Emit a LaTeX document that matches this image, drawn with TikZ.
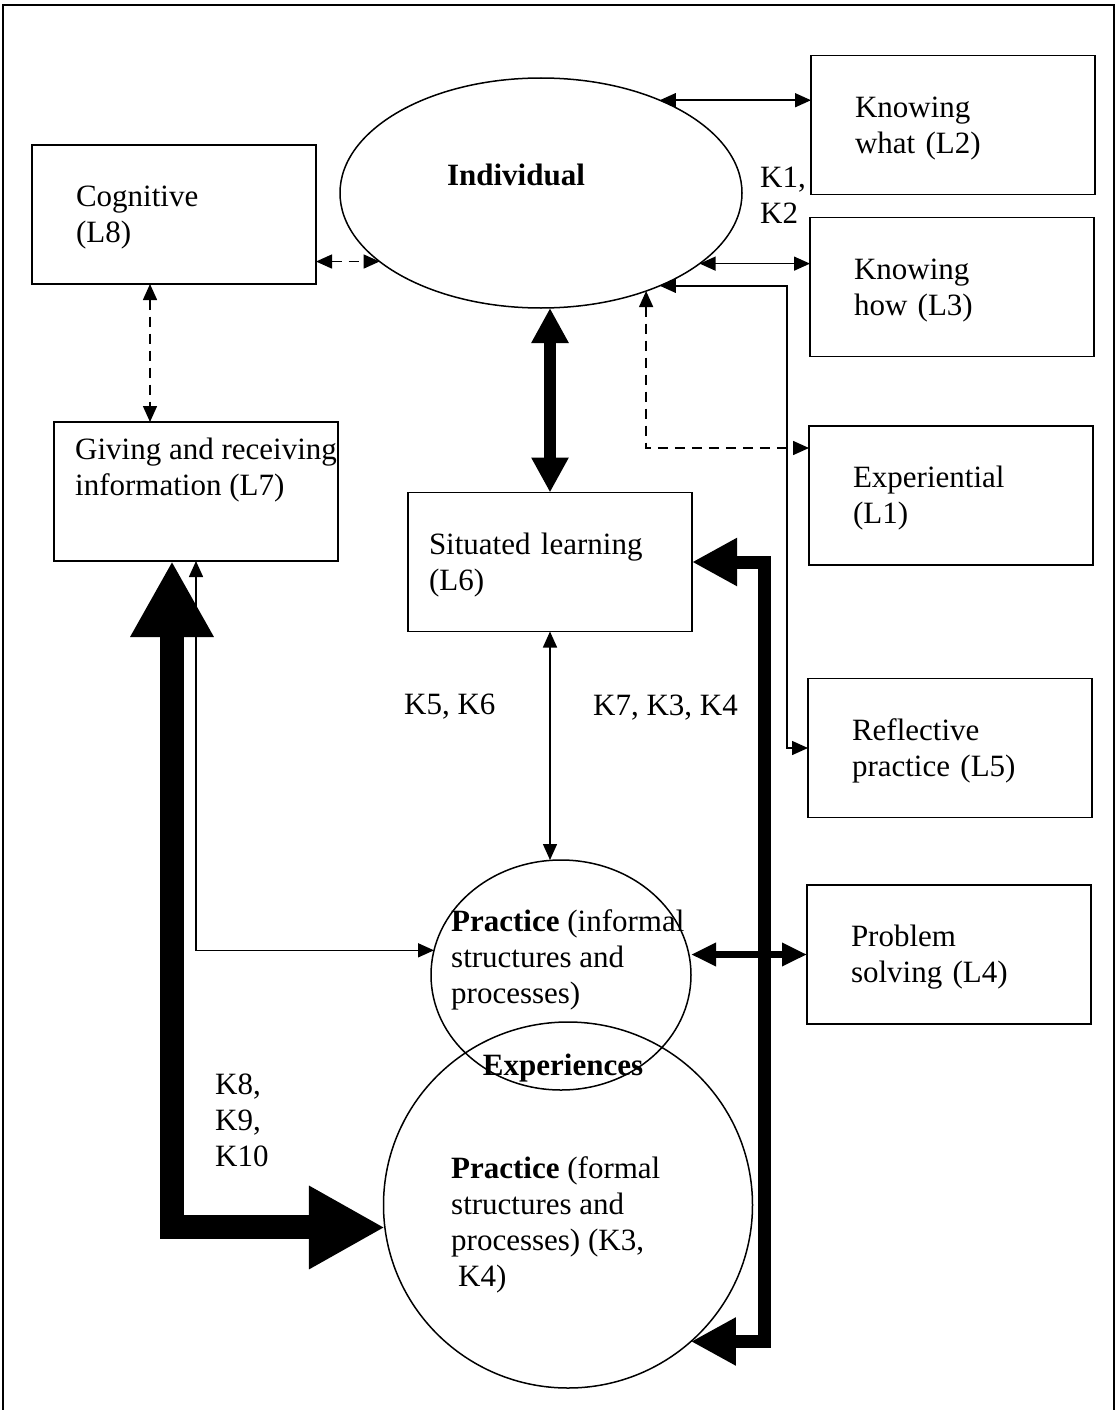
\documentclass[tikz,border=0pt]{standalone}
\usepackage{fontspec}
\setmainfont{Liberation Serif}
\usetikzlibrary{arrows.meta,shapes.geometric}
\newcommand\diagfont{\fontsize{31}{36}\selectfont}
\begin{document}
\begin{tikzpicture}[x=1pt,y=-1pt,
  boxnode/.style={draw, line width=1.5pt, minimum width=284pt, minimum height=139pt,
    inner xsep=44pt, inner ysep=0pt, outer sep=0pt, text width=196pt, align=left, font=\diagfont,
    execute at begin node={\rule{0pt}{27.5pt}}},
  narrowpad/.style={inner xsep=21pt, text width=242pt},
  oval/.style={draw, ellipse, line width=1.5pt, inner sep=0pt, outer sep=0pt},
  txt/.style={inner sep=0pt, align=left, font=\diagfont},
  thin/.style={line width=1.5pt, arrows={Triangle[length=16pt,width=14pt]-Triangle[length=16pt,width=14pt]}},
  dashline/.style={thin, dash pattern=on 10pt off 7pt},
  boldmid/.style={line width=7pt, arrows={Triangle[length=25pt,width=22pt]-Triangle[length=25pt,width=22pt]}},
  boldup/.style={line width=12pt, arrows={Triangle[length=35pt,width=35pt]-Triangle[length=35pt,width=35pt]}},
  boldright/.style={line width=13pt, line join=miter, arrows={Triangle[length=45pt,width=45pt]-Triangle[length=45pt,width=45pt]}},
  boldleft/.style={line width=24pt, line join=miter, arrows={Triangle[length=76pt,width=78pt]-Triangle[length=76pt,width=78pt]}}
]
\useasboundingbox (0,0) rectangle (1118,1410);
\draw[line width=1.5pt] (3,1410) -- (3,5) -- (1114,5) -- (1114,1410);

% central ellipse and the two practice circles
\node[oval, minimum width=402pt, minimum height=230pt] (ind) at (541,193) {};
\node[txt, font=\diagfont\bfseries] (indt) at (516,175) {Individual};
\node[oval, minimum width=260pt, minimum height=230pt] (pin) at (561,975) {};
\node[oval, minimum width=369pt, minimum height=366pt] (pfo) at (568,1205) {};
\node[txt, anchor=west] (pint) at (451,960) {\textbf{Practice} (informal\\structures and\\processes)};
\node[txt, font=\diagfont\bfseries] (expt) at (563,1068) {Experiences};
\node[txt, anchor=west] (pfot) at (451,1225) {\textbf{Practice} (formal\\structures and\\processes) (K3,\\\hspace*{7pt}K4)};

% learning boxes
\node[boxnode] (cog) at (174,214.5) {Cognitive\\(L8)};
\node[boxnode] (kw) at (953,125) {Knowing\\what (L2)};
\node[boxnode] (kh) at (952,287) {Knowing\\how (L3)};
\node[boxnode] (ex) at (951,495.5) {Experiential\\(L1)};
\node[boxnode] (rp) at (950,748) {Reflective\\practice (L5)};
\node[boxnode] (ps) at (949,954.5) {Problem\\solving (L4)};
\node[boxnode, narrowpad] (sit) at (550,562) {Situated learning\\(L6)};
\node[boxnode, narrowpad] (giv) at (196,491.5) {};
\node[txt, anchor=west] (givt) at ([xshift=21pt,yshift=21pt]giv.west) {Giving and receiving\\information (L7)};

% knowledge labels
\node[txt, anchor=west] (k12) at (760,195) {K1,\\K2};
\node[txt, anchor=west] (k56) at (404,707) {K5, K6};
\node[txt, anchor=west] (k734) at (593,708) {K7, K3, K4};
\node[txt, anchor=west] (k8910) at (215,1120) {K8,\\K9,\\K10};

% bend points of routed connectors
\coordinate (rbend) at (787,0);
\coordinate (exbend) at (0,448);
\coordinate (cgx) at (150,0);
\coordinate (lthick) at (172,0);
\coordinate (rthick) at (764,0);

% thin connectors
\draw[thin] (ind.38) -- (ind.38 -| kw.west);
\draw[thin] (ind.-24) -- (ind.-24 -| kh.west);
\draw[thin] (ind.-38) -- (ind.-38 -| rbend) |- (rp.west);
\draw[thin] (sit.south) -- (sit.south |- pin.north);
\draw[thin] (giv.south) |- (pin.169);

% dashed connectors
\draw[dashline] (ind.-43) -- (ind.-43 |- exbend) -- (exbend -| ex.west);
\draw[dashline] (cog.east |- ind.203) -- (ind.203);
\draw[dashline] (cog.south -| cgx) -- (giv.north -| cgx);

% heavy connectors
\draw[boldup] (ind.south -| sit.north) -- (sit.north);
\draw[boldmid] (pin.east |- ps.west) -- (ps.west);
\draw[boldright] (sit.east) -- (sit.east -| rthick) -- (rthick |- pfo.-48) -- (pfo.-48);
\draw[boldleft] (giv.south -| lthick) -- (lthick |- pfo.187) -- (pfo.187);
\end{tikzpicture}
\end{document}
